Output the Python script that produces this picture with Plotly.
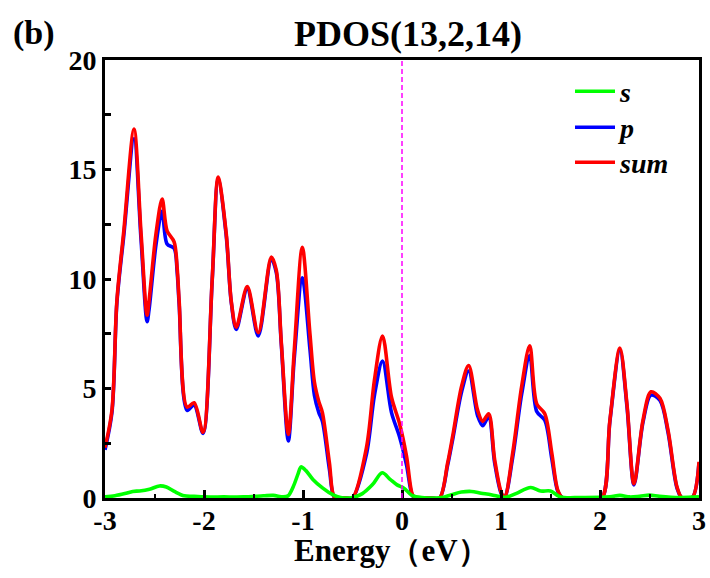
import plotly.graph_objects as go

# ---- data ----
energy = [-3.00, -2.93, -2.88, -2.81, -2.707, -2.636, -2.575, -2.555, -2.484, -2.423,
          -2.373, -2.302, -2.271, -2.251, -2.17, -2.10, -2.01, -1.917, -1.857, -1.776,
          -1.725, -1.674, -1.563, -1.452, -1.32, -1.27, -1.219, -1.148, -1.088, -1.007,
          -0.93, -0.885, -0.84, -0.804, -0.733, -0.683, -0.62, -0.56, -0.50, -0.359,
          -0.278, -0.197, -0.106, -0.025, 0.046, 0.106, 0.14, 0.22, 0.30, 0.38,
          0.461, 0.511, 0.602, 0.673, 0.764, 0.815, 0.875, 0.936, 1.007, 1.037,
          1.118, 1.209, 1.29, 1.361, 1.442, 1.513, 1.574, 1.624, 1.75, 1.9,
          2.019, 2.10, 2.201, 2.272, 2.343, 2.434, 2.515, 2.606, 2.687, 2.778,
          2.829, 2.93, 3.00]
pdos_sum = [2.3, 4.0, 9.0, 12.2, 16.85, 12.1, 8.35, 9.0, 12.1, 13.65,
            12.2, 11.7, 10.5, 9.0, 4.15, 4.35, 3.0, 10.0, 14.65, 12.1,
            9.0, 7.8, 9.65, 7.55, 11.0, 10.4, 7.1, 2.9, 6.75, 11.45,
            7.5, 5.3, 4.4, 3.9, 1.6, 0.05, 0.0, 0.0, 0.0, 2.3,
            5.4, 7.4, 4.6, 3.4, 1.9, 0.15, 0.0, 0.0, 0.0, 0.0,
            1.6, 2.8, 5.1, 6.05, 4.0, 3.5, 3.85, 1.75, 0.2, 0.05,
            2.05, 5.1, 6.95, 4.3, 3.85, 2.05, 0.35, 0.0, 0.0, 0.0,
            0.0, 3.55, 6.85, 4.3, 0.65, 3.55, 4.85, 4.55, 3.1, 0.5,
            0.0, 0.0, 1.65]
pdos_p = [2.2, 3.9, 8.9, 12.0, 16.4, 11.8, 8.05, 8.6, 11.6, 13.1,
          11.6, 11.4, 10.3, 8.85, 4.0, 4.25, 2.95, 9.95, 14.55, 12.0,
          8.95, 7.7, 9.55, 7.4, 10.9, 10.3, 7.0, 2.6, 6.4, 10.05,
          6.8, 4.7, 3.9, 3.5, 1.3, 0.03, 0.0, 0.0, 0.0, 2.0,
          4.7, 6.25, 3.9, 2.8, 1.5, 0.1, 0.0, 0.0, 0.0, 0.0,
          1.5, 2.65, 4.85, 5.8, 3.75, 3.3, 3.7, 1.6, 0.15, 0.05,
          1.85, 4.75, 6.5, 3.95, 3.55, 1.8, 0.3, 0.0, 0.0, 0.0,
          0.0, 3.5, 6.75, 4.2, 0.6, 3.45, 4.7, 4.45, 3.0, 0.45,
          0.0, 0.0, 1.6]

energy_s = [-3.0, -2.9, -2.8, -2.72, -2.65, -2.55, -2.45, -2.38, -2.3, -2.2,
            -2.1, -2.0, -1.8, -1.6, -1.4, -1.3, -1.2, -1.15, -1.1, -1.05,
            -1.02, -0.97, -0.9, -0.8, -0.7, -0.62, -0.5, -0.4, -0.3, -0.2,
            -0.12, -0.05, 0.02, 0.1, 0.2, 0.4, 0.5, 0.6, 0.7, 0.8,
            0.9, 1.0, 1.05, 1.15, 1.3, 1.4, 1.5, 1.6, 1.8, 2.1,
            2.2, 2.3, 2.4, 2.5, 2.6, 2.8, 3.0]
pdos_s = [0.05, 0.1, 0.2, 0.3, 0.32, 0.4, 0.55, 0.5, 0.3, 0.1,
          0.08, 0.05, 0.05, 0.05, 0.1, 0.12, 0.05, 0.1, 0.5, 1.1,
          1.42, 1.25, 0.85, 0.45, 0.15, 0.02, 0.02, 0.2, 0.6, 1.15,
          0.85, 0.6, 0.45, 0.12, 0.02, 0.02, 0.15, 0.27, 0.3, 0.22,
          0.15, 0.05, 0.03, 0.2, 0.48, 0.32, 0.32, 0.05, 0.02, 0.05,
          0.12, 0.05, 0.08, 0.13, 0.08, 0.02, 0.05]

x_ticks = [-3, -2, -1, 0, 1, 2, 3]
y_ticks = [0, 5, 10, 15, 20]

FONT = "Liberation Serif"
LW = 3.6
ML, MR, MT, MB = 105, 11, 60, 80
W, H = 710, 578
PW, PH = W - ML - MR, H - MT - MB


def px_x(px):
    return (px - ML) / PW


def px_y(py):
    return (H - MB - py) / PH


fig = go.Figure()
fig.add_trace(go.Scatter(x=energy, y=pdos_p, mode="lines", name="p", legend="legend2",
                         line=dict(color="#0000FF", width=LW, shape="spline", smoothing=0.9)))
fig.add_trace(go.Scatter(x=energy, y=pdos_sum, mode="lines", name="sum", legend="legend3",
                         line=dict(color="#FF0000", width=LW, shape="spline", smoothing=0.9)))
fig.add_trace(go.Scatter(x=energy_s, y=pdos_s, mode="lines", name="s", legend="legend",
                         line=dict(color="#00FF00", width=LW, shape="spline", smoothing=0.9)))

fig.add_shape(type="line", x0=0, x1=0, y0=0, y1=1, xref="x", yref="paper",
              line=dict(color="#FF00FF", width=1.5, dash="5px,3px"))

leg_font = dict(family=FONT, size=28, style="italic", weight="bold", color="black")


def leg(yc):
    return dict(x=px_x(570), y=px_y(yc), xanchor="left", yanchor="middle",
                bgcolor="rgba(0,0,0,0)", font=leg_font, itemwidth=40)


fig.update_layout(
    width=W, height=H,
    margin=dict(l=ML, r=MR, t=MT, b=MB, autoexpand=False),
    paper_bgcolor="white", plot_bgcolor="white",
    font=dict(family=FONT, color="black", size=28, weight="bold"),
    showlegend=True,
    legend=leg(91.5), legend2=leg(127.5), legend3=leg(162.5),
    title=dict(text="PDOS(13,2,14)", x=408 / W, xanchor="center",
               y=1 - 33 / H, yanchor="middle",
               font=dict(family=FONT, size=36, weight="bold")),
    annotations=[
        dict(text="(b)", xref="paper", yref="paper", x=px_x(11), y=px_y(33),
             xanchor="left", yanchor="middle", showarrow=False,
             font=dict(family=FONT, size=34, weight="bold")),
        dict(text="Energy（eV）", xref="paper", yref="paper", x=px_x(391), y=px_y(550),
             xanchor="center", yanchor="middle", showarrow=False,
             font=dict(family=FONT, size=31, weight="bold")),
    ],
)

fig.update_xaxes(range=[-3, 3], tickvals=x_ticks, ticktext=[str(v) for v in x_ticks],
                 ticks="inside", ticklen=8, tickwidth=2.5, tickcolor="black",
                 minor=dict(dtick=0.5, ticks="inside", ticklen=4, tickwidth=2, tickcolor="black"),
                 showline=True, linecolor="black", linewidth=3, mirror=True,
                 showgrid=False, zeroline=False, automargin=False,
                 ticklabelstandoff=-5,
                 tickfont=dict(family=FONT, size=28, weight="bold"))
fig.update_yaxes(range=[0, 20], tickvals=y_ticks, ticktext=[str(v) for v in y_ticks],
                 ticks="inside", ticklen=6, tickwidth=2.5, tickcolor="black",
                 minor=dict(dtick=2.5, ticks="inside", ticklen=6, tickwidth=2.5, tickcolor="black"),
                 showline=True, linecolor="black", linewidth=3, mirror=True,
                 showgrid=False, zeroline=False, automargin=False,
                 tickfont=dict(family=FONT, size=28, weight="bold"))

fig.write_html("out.html", config={"displayModeBar": False},
               post_script="document.body.style.margin='0';document.body.style.overflow='hidden';")
